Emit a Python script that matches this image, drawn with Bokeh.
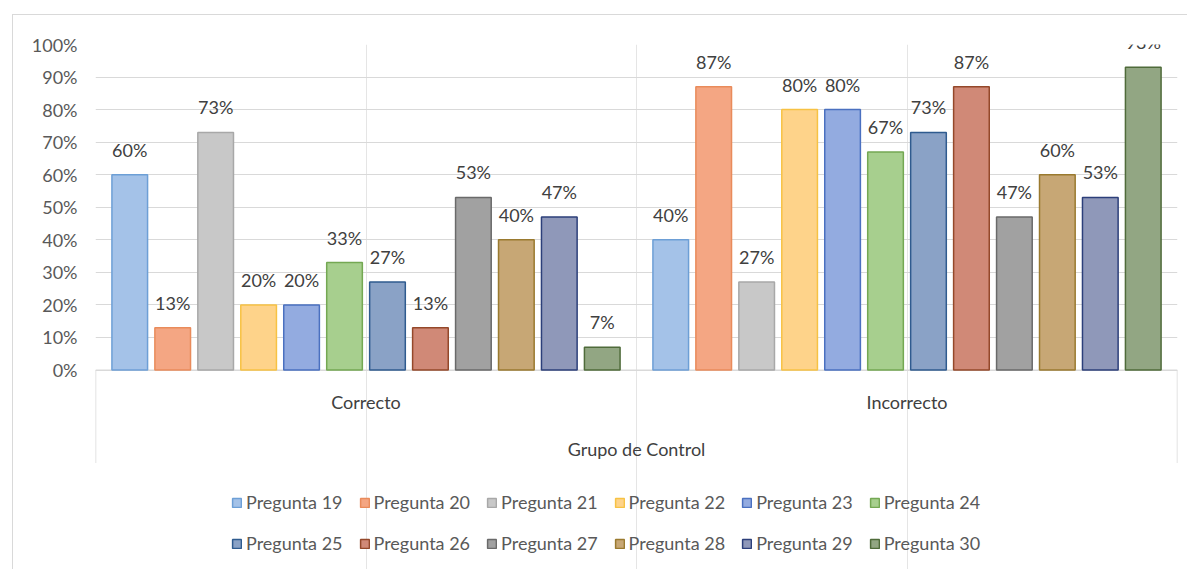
from bokeh.plotting import figure
from bokeh.models import (ColumnDataSource, Range1d, FixedTicker,
                          NumeralTickFormatter, Legend, LegendItem)
from bokeh.transform import dodge
from bokeh.core.properties import value
from bokeh.embed import file_html
from bokeh.resources import INLINE

# ---------------- data ----------------
groups = ["Correcto", "Incorrecto"]
questions = ["Pregunta 19", "Pregunta 20", "Pregunta 21", "Pregunta 22",
             "Pregunta 23", "Pregunta 24", "Pregunta 25", "Pregunta 26",
             "Pregunta 27", "Pregunta 28", "Pregunta 29", "Pregunta 30"]
correcto = [0.60, 0.13, 0.73, 0.20, 0.20, 0.33, 0.27, 0.13, 0.53, 0.40, 0.47, 0.07]
incorrecto = [0.40, 0.87, 0.27, 0.80, 0.80, 0.67, 0.73, 0.87, 0.47, 0.60, 0.53, 0.93]
y_ticks = [0.0, 0.1, 0.2, 0.3, 0.4, 0.5, 0.6, 0.7, 0.8, 0.9, 1.0]
axis_title = "Grupo de Control"

fill_colors = ["#a4c2e8", "#f4a683", "#c8c8c8", "#fed38a", "#93abe0", "#a7cf8e",
               "#8aa2c6", "#d08977", "#a1a1a1", "#c7a775", "#8f98b9", "#92a683"]
line_colors = ["#6d9fd6", "#e98b5b", "#a8a8a8", "#f7c244", "#4a70c0", "#74a853",
               "#2f5b8f", "#94482a", "#6a6a6a", "#9a7a2f", "#2c3f7a", "#4f6b3a"]

FONT = "Lato"
FS = "18px"
W, H = 1175, 555
LEFT, RIGHT, TOP = 82, 11, 29
PLOT_PX = 325.5          # height of 0..100% in pixels
FRAME_PX = H - TOP       # frame spans to the bottom of the canvas
y_bottom = -(FRAME_PX - PLOT_PX) / PLOT_PX
box_bottom = -93 / PLOT_PX   # depth of the category box below the axis

n = len(groups)
centers = [i + 0.5 for i in range(n)]   # group i occupies [i, i+1] on the x scale
edges = [0, n]

p = figure(x_range=Range1d(0, n), y_range=Range1d(y_bottom, 1), width=W, height=H,
           x_axis_location=None,
           output_backend="svg", toolbar_location=None,
           min_border_left=LEFT, min_border_right=RIGHT,
           min_border_top=TOP, min_border_bottom=0)
p.outline_line_color = None
p.background_fill_color = "white"
p.border_fill_color = "white"
p.styles = {"margin-left": "12px", "margin-top": "14px",
            "border-top": "1px solid #d9d9d9", "border-left": "1px solid #d9d9d9"}

# y axis and grid
p.yaxis.ticker = FixedTicker(ticks=y_ticks)
p.yaxis.formatter = NumeralTickFormatter(format="0%")
p.yaxis.axis_line_color = None
p.yaxis.major_tick_line_color = None
p.yaxis.major_tick_out = 0
p.yaxis.minor_tick_line_color = None
p.yaxis.major_label_standoff = 18
p.yaxis.major_label_text_font = FONT
p.yaxis.major_label_text_font_size = FS
p.yaxis.major_label_text_color = "#595959"
p.ygrid.ticker = FixedTicker(ticks=y_ticks)
p.ygrid.grid_line_color = "#d9d9d9"

# category axis box: base line, end lines, labels
p.segment(x0=[0], y0=[0], x1=[n], y1=[0], line_color="#d9d9d9", line_width=1)
p.segment(x0=edges, y0=[0, 0], x1=edges, y1=[box_bottom, box_bottom],
          line_color="#d9d9d9", line_width=1.5)
p.text(x=centers, y=[0] * n, text=groups, text_align="center", text_baseline="middle",
       y_offset=32, text_font=value(FONT), text_font_size=value(FS), text_color="#404040")
p.text(x=[n / 2], y=[0], text=[axis_title], text_align="center", text_baseline="middle",
       y_offset=79, text_font=value(FONT), text_font_size=value(FS), text_color="#404040")

# bars and data labels
step = 0.0794
bar_w = 0.0659
renderers = []
for i, q in enumerate(questions):
    src = ColumnDataSource(dict(x=centers, top=[correcto[i], incorrecto[i]],
                                lab=["{:.0%}".format(correcto[i]), "{:.0%}".format(incorrecto[i])]))
    off = (i - (len(questions) - 1) / 2) * step
    r = p.vbar(x=dodge("x", off), top="top", bottom=0, width=bar_w, source=src,
               fill_color=fill_colors[i], line_color=line_colors[i], line_width=1.5)
    renderers.append(r)
    p.text(x=dodge("x", off), y="top", text="lab", source=src,
           text_align="center", text_baseline="alphabetic", y_offset=-25,
           text_font=value(FONT), text_font_size=value(FS), text_color="#404040")

# legend: two rows of six, inside the lower part of the frame
for row, vy in ((0, 57), (1, 16)):
    items = [LegendItem(label=questions[j], renderers=[renderers[j]])
             for j in range(row * 6, row * 6 + 6)]
    lg = Legend(items=items, orientation="horizontal", location=(136, vy),
                glyph_width=11, glyph_height=11, label_standoff=4, spacing=16,
                padding=0, margin=0, border_line_color=None,
                background_fill_alpha=0,
                label_text_font=FONT, label_text_font_size=FS,
                label_text_color="#595959")
    p.add_layout(lg, "center")

open("out.html", "w").write(file_html(p, INLINE))
